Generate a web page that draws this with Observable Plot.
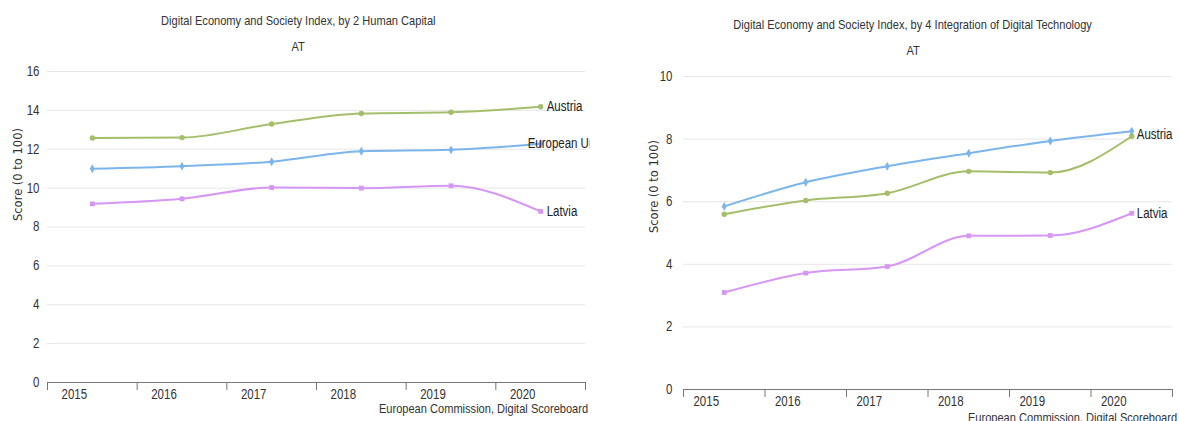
<!DOCTYPE html>
<html>
<head>
<meta charset="utf-8">
<script src="https://cdn.jsdelivr.net/npm/d3@7"></script>
<script src="https://cdn.jsdelivr.net/npm/@observablehq/plot@0.6"></script>
<style>
  html, body { margin: 0; padding: 0; background: #fff; }
  .panel { position: absolute; top: 0; height: 421px; overflow: hidden; background: #fff; }
  .panel svg { position: absolute; left: 0; top: 0; }
  .txt { position: absolute; white-space: nowrap; color: #333;
         font-family: "Liberation Sans", Arial, sans-serif; font-size: 13.5px; line-height: 15px; }
  .txt span { display: inline-block; transform: scaleX(0.82); }
</style>
</head>
<body>
<div id="left" class="panel" style="left:0;width:590px"></div>
<div id="right" class="panel" style="left:590px;width:589px"></div>
<script>
// ---- data ----
const years = [2015, 2016, 2017, 2018, 2019, 2020];
const seriesNames = ["Austria", "European Union", "Latvia"];
const seriesColors = ["#a4be6a", "#7cb5ec", "#d696f6"];
const seriesSymbols = ["circle", "diamond", "square"];

// 2 Human Capital
const hcAustria = [12.58, 12.6, 13.3, 13.84, 13.9, 14.19];
const hcEU      = [11.0, 11.13, 11.36, 11.9, 11.97, 12.28];
const hcLatvia  = [9.19, 9.45, 10.03, 10.0, 10.12, 8.8];
const hcTicks   = [0, 2, 4, 6, 8, 10, 12, 14, 16];

// 4 Integration of Digital Technology
const idtAustria = [5.6, 6.04, 6.27, 6.97, 6.93, 8.09];
const idtEU      = [5.85, 6.62, 7.13, 7.55, 7.94, 8.25];
const idtLatvia  = [3.1, 3.72, 3.93, 4.91, 4.92, 5.63];
const idtTicks   = [0, 2, 4, 6, 8, 10];

const titleLeft  = "Digital Economy and Society Index, by 2 Human Capital";
const titleRight = "Digital Economy and Society Index, by 4 Integration of Digital Technology";
const subtitle   = "AT";
const yLabel     = "Score (0 to 100)";
const credits    = "European Commission, Digital Scoreboard";

// ---- build ----
const narrowFont = '"Liberation Sans", Arial, sans-serif';
const edges = years.map(y => y - 0.5).concat([years[years.length - 1] + 0.5]);

function rowsOf(arrs) {
  const rows = [];
  seriesNames.forEach((s, k) => arrs[k].forEach((v, i) => rows.push({series: s, year: years[i], value: v})));
  return rows;
}

function chart({rows, ticks, width, mL, mR, mT, mB, tickPad, labels, xdx, ylabDy}) {
  const last = labels.map(l => {
    const r = rows.filter(d => d.series === l.series);
    return {...r[r.length - 1], dx: l.dx, dy: l.dy};
  });
  const svg = Plot.plot({
    width, height: 421,
    marginLeft: mL, marginRight: mR, marginTop: mT, marginBottom: mB,
    style: {fontFamily: narrowFont, fontSize: "14px", color: "#333", background: "#fff"},
    x: {domain: [edges[0], edges[edges.length - 1]]},
    y: {domain: [0, ticks[ticks.length - 1]]},
    color: {domain: seriesNames, range: seriesColors},
    symbol: {domain: seriesNames, range: seriesSymbols},
    marks: [
      Plot.gridY(ticks, {stroke: "#e6e6e6", strokeOpacity: 1}),
      Plot.axisY(ticks, {tickSize: 0, tickPadding: tickPad, label: null, fill: "#333", fontSize: 14}),
      Plot.ruleY([0], {stroke: "#777", strokeWidth: 1.2}),
      Plot.axisX(edges, {tickSize: 8, tickFormat: () => "", label: null, stroke: "#777"}),
      Plot.axisX(years, {tickSize: 0, tickPadding: 7, dx: xdx, tickFormat: d => String(d), label: null, fill: "#333", fontSize: 14}),
      Plot.line(rows, {x: "year", y: "value", z: "series", stroke: "series", strokeWidth: 2, curve: "monotone-x"}),
      Plot.dot(rows, {x: "year", y: "value", fill: "series", symbol: "series", r: 2.7}),
      ...last.map(d => Plot.text([d], {x: "year", y: "value", text: "series", textAnchor: "start",
        dx: d.dx, dy: d.dy, fontSize: 14, fill: "#222"})),
      Plot.text([yLabel], {frameAnchor: "left", rotate: -90, dx: -29, dy: ylabDy, text: d => d,
        fontFamily: "DejaVu Sans, Verdana, sans-serif", fontSize: 11.5, fill: "#333"})
    ]
  });
  // condense the sans text (Arial-Narrow-like look) while keeping it as real text
  svg.querySelectorAll("text").forEach(t => {
    if (t.textContent === yLabel) return;
    const tr = t.getAttribute("transform");
    if (tr) t.setAttribute("transform", tr + " scale(0.82,1)");
  });
  return svg;
}

function addText(el, text, style, origin) {
  const d = document.createElement("div");
  d.className = "txt";
  const s = document.createElement("span");
  s.textContent = text;
  s.style.transformOrigin = origin;
  d.appendChild(s);
  Object.assign(d.style, style);
  el.appendChild(d);
  return d;
}

const left = document.getElementById("left");
left.appendChild(chart({
  rows: rowsOf([hcAustria, hcEU, hcLatvia]), ticks: hcTicks,
  width: 590, mL: 47, mR: 5, mT: 71, mB: 39, tickPad: 8, xdx: -18, ylabDy: -6,
  labels: [{series: "Austria", dx: 6, dy: 0}, {series: "European Union", dx: -13, dy: 0}, {series: "Latvia", dx: 6, dy: 0}]
}));
addText(left, titleLeft, {left: "0px", width: "596px", textAlign: "center", top: "13px"}, "center");
addText(left, subtitle, {left: "0px", width: "596px", textAlign: "center", top: "39px"}, "center");
addText(left, credits, {right: "2px", top: "401px", textAlign: "right"}, "right");

const right = document.getElementById("right");
right.appendChild(chart({
  rows: rowsOf([idtAustria, idtEU, idtLatvia]), ticks: idtTicks,
  width: 589, mL: 93, mR: 7, mT: 76, mB: 32, tickPad: 11, xdx: -18, ylabDy: 0,
  labels: [{series: "Austria", dx: 5, dy: -2}, {series: "Latvia", dx: 5, dy: 0}]
}));
addText(right, titleRight, {left: "0px", width: "646px", textAlign: "center", top: "17px"}, "center");
addText(right, subtitle, {left: "0px", width: "646px", textAlign: "center", top: "43px"}, "center");
addText(right, credits, {right: "2px", top: "410px", textAlign: "right"}, "right");
</script>
</body>
</html>
